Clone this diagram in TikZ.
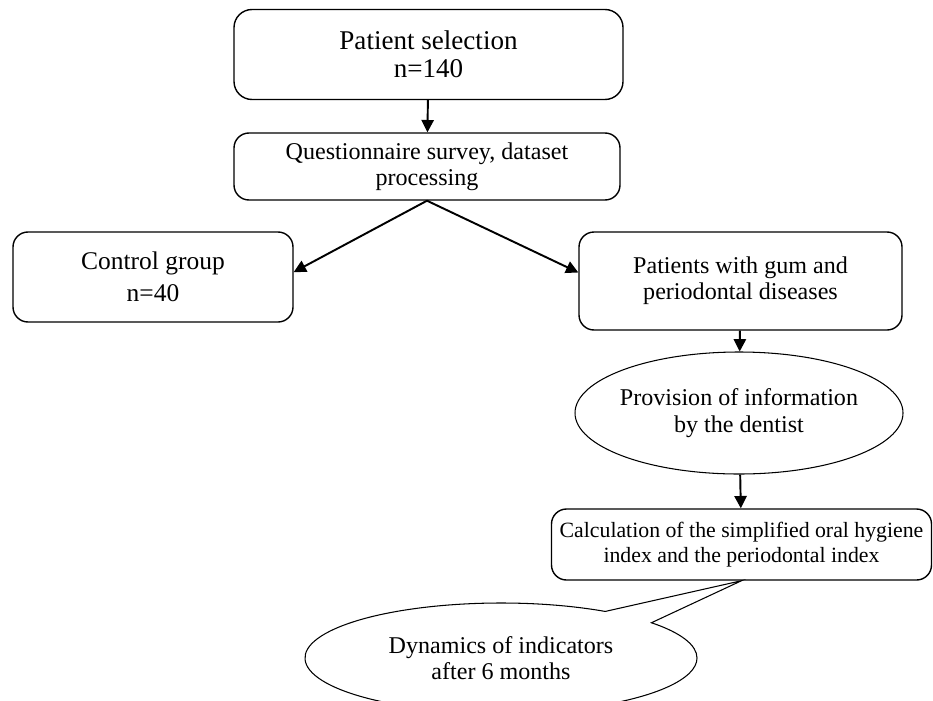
\documentclass[tikz,border=0pt]{standalone}
\usepackage{fontspec}
\setmainfont{Liberation Serif}
\usetikzlibrary{arrows.meta,shapes.geometric,shapes.callouts}

\begin{document}
\begin{tikzpicture}[
    box/.style={draw, thick, rounded corners=0.3cm, align=center,
                font=\fontsize{13.7}{15}\selectfont},
    oval/.style={draw, semithick, ellipse, align=center,
                 font=\fontsize{13.7}{15}\selectfont},
    arr/.style={-{Triangle[length=7pt,width=7pt]}, line width=1.1pt}
  ]
    \useasboundingbox (0,0) rectangle (18.66,-14);

    \node[box, rounded corners=0.36cm, minimum width=7.78cm, minimum height=1.8cm,
          font=\fontsize{15.4}{16}\selectfont] (s) at (8.57,-1.09) {Patient selection\\n=140};
    \node[box, minimum width=7.72cm, minimum height=1.34cm] (q) at (8.54,-3.33) {Questionnaire survey, dataset\\processing};
    \node[box, minimum width=5.6cm, minimum height=1.8cm,
          font=\fontsize{14.5}{18.5}\selectfont] (c) at (3.06,-5.54) {Control group\\n=40};
    \node[box, minimum width=6.46cm, minimum height=1.96cm] (p) at (14.81,-5.62) {Patients with gum and\\periodontal diseases};
    \node[oval, inner xsep=-0.2cm, minimum width=6.56cm, minimum height=2.44cm] (i) at (14.78,-8.26) {Provision of information\\by the dentist};
    \node[box, minimum width=7.6cm, minimum height=1.42cm,
          font=\fontsize{12.4}{14}\selectfont] (h) at (14.83,-10.89) {Calculation of the simplified oral hygiene\\index and the periodontal index};
    \node[oval, shape=ellipse callout, minimum width=7.84cm, minimum height=2.2cm,
          callout absolute pointer={(h.south)}, callout pointer arc=18] (d) at (10.02,-13.16) {Dynamics of indicators\\after 6 months};

    \draw[arr] (s) -- (q);
    \draw[arr] (q.south) -- (c.2);
    \draw[arr] (q.south) -- (p.177);
    \draw[arr] (p) -- (i);
    \draw[arr] (i) -- (h);
  \end{tikzpicture}
\end{document}
